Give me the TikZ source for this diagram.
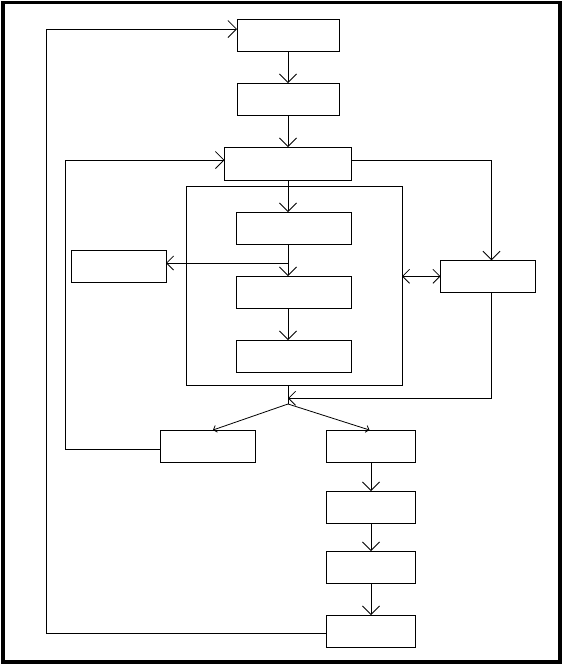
\documentclass[tikz,border=0pt]{standalone}
\usepackage{tikz}
\usetikzlibrary{arrows.meta,positioning}
\definecolor{ink}{HTML}{000000}
\tikzset{
  box/.style={draw=ink, line width=0.8pt, inner sep=0pt, outer sep=0pt, minimum height=32pt},
  group/.style={draw=ink, line width=0.8pt, inner sep=0pt, outer sep=0pt},
  wire/.style={draw=ink, line width=0.8pt},
  arrow/.style={-{Straight Barb[length=8.5pt, width=17pt]}, line width=0.8pt, draw=ink},
  midarrow/.style={-{Straight Barb[length=7pt, width=14pt]}, line width=0.8pt, draw=ink},
  dblarrow/.style={{Straight Barb[length=7pt, width=14pt]}-{Straight Barb[length=7pt, width=14pt]}, line width=0.8pt, draw=ink},
  smallarrow/.style={-{Straight Barb[length=3pt, width=7pt]}, line width=0.8pt, draw=ink}
}

\begin{document}
\begin{tikzpicture}[x=1pt, y=-1pt, node distance=32pt]
  \useasboundingbox (0,0) rectangle (563,665);
  \draw[ink, line width=3.7pt] (2.85,2.5) rectangle (560.2,661.7);

  \node[box, minimum width=102pt] (top) at (288,35) {};
  \node[box, minimum width=102pt, below=of top] (second) {};
  \node[box, minimum width=127pt, minimum height=33pt, below=of second] (hub) {};
  \node[box, minimum width=115pt, below=of hub, xshift=6pt] (inner1) {};
  \node[box, minimum width=115pt, below=of inner1] (inner2) {};
  \node[box, minimum width=115pt, below=of inner2] (inner3) {};
  \node[group, minimum width=216pt, minimum height=199pt] (frame) at (294,285.5) {};
  \node[box, minimum width=95pt] (side) at (118.5,266.3) {};
  \node[box, minimum width=95pt] (monitor) at (488,276.3) {};
  \node[box, minimum width=95pt] (retry) at (208,446) {};
  \node[box, minimum width=89pt] (out1) at (371,446) {};
  \node[box, minimum width=89pt, below=29pt of out1] (out2) {};
  \node[box, minimum width=89pt, below=28pt of out2] (out3) {};
  \node[box, minimum width=89pt, below=of out3] (out4) {};

  \coordinate (split) at (288,263);
  \coordinate (merge) at (288,398.3);
  \coordinate (fork) at (288,404);

  \draw[arrow] (top) -- (second);
  \draw[arrow] (second) -- (hub);
  \draw[arrow] (hub.south) -- (hub.south |- inner1.north);
  \draw[arrow] (inner1.south -| hub) -- (inner2.north -| hub);
  \draw[midarrow] (split) -- (split -| side.east);
  \draw[arrow] (inner2.south -| hub) -- (inner3.north -| hub);
  \draw[dblarrow] (monitor.west -| frame.east) -- (monitor.west);
  \draw[arrow] ([yshift=3.5pt]hub.east) -| ([xshift=3.5pt]monitor.north);
  \draw[midarrow] ([xshift=3.5pt]monitor.south) |- (merge);
  \draw[wire] (frame.south -| fork) -- (fork);
  \draw[smallarrow] (fork) -- ([xshift=5pt]retry.north);
  \draw[smallarrow] (fork) -- ([xshift=-1.5pt]out1.north);
  \draw[arrow] ([yshift=-3pt]retry.west) -- ++(-94.8,0) |- ([yshift=3.5pt]hub.west);
  \draw[arrow] (out1) -- (out2);
  \draw[arrow] (out2) -- (out3);
  \draw[arrow] (out3) -- (out4);
  \draw[arrow] ([yshift=-2.7pt]out4.west) -- ++(-280,0) |- ([yshift=6pt]top.west);
\end{tikzpicture}
\end{document}
